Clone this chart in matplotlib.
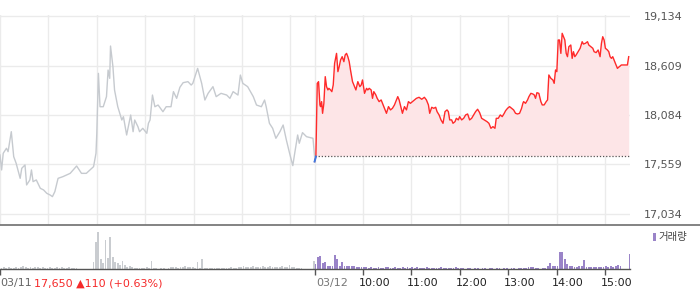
import numpy as np
import matplotlib
matplotlib.use("Agg")
import matplotlib.pyplot as plt
from matplotlib.lines import Line2D
from matplotlib.patches import Rectangle

plt.rcParams['font.family'] = ['DejaVu Sans', 'Noto Sans CJK KR']

# --- data (minutes from 09:00, price in KRW) ---
prev_close = 17650
y_ticks = [17034, 17559, 18084, 18609, 19134]

d1_t = [0, 2, 4, 8, 10, 14, 17, 20, 25, 27, 31, 33, 37, 39, 41, 45, 50, 54, 58, 62,
        65, 68, 72, 78, 87, 95, 101, 107, 116, 119, 120, 122, 124, 128, 132, 134, 136, 137, 140, 142,
        146, 151, 153, 157, 162, 165, 167, 171, 173, 177, 182, 184, 186, 189, 192, 196, 202, 206, 212, 215,
        219, 223, 227, 233, 237, 239, 245, 250, 254, 258, 264, 268, 274, 281, 285, 289, 295, 298, 301, 307,
        314, 318, 324, 328, 330, 334, 338, 342, 347, 351, 355, 359, 363, 365, 369, 371, 375, 380, 388, 390]
d1_p = [17660, 17501, 17678, 17731, 17695, 17907, 17642, 17572, 17412, 17519, 17554, 17342, 17395, 17501, 17377, 17395, 17306, 17289, 17253, 17236,
        17218, 17271, 17412, 17430, 17465, 17543, 17465, 17465, 17536, 17678, 17890, 18526, 18172, 18172, 18279, 18561, 18473, 18816, 18597, 18349,
        18172, 18031, 18066, 17872, 18084, 17907, 18031, 17960, 17907, 17943, 17890, 17996, 18031, 18296, 18172, 18190, 18119, 18172, 18172, 18332,
        18261, 18378, 18427, 18438, 18402, 18420, 18579, 18420, 18243, 18314, 18385, 18279, 18314, 18296, 18261, 18332, 18296, 18508, 18420, 18385,
        18279, 18190, 18172, 18243, 18172, 17996, 17943, 17837, 17907, 17978, 17819, 17678, 17547, 17660, 17872, 17784, 17897, 17854, 17837, 17642]

d2_t = [0, 1.6, 3.3, 4.9, 6.6, 7.4, 8.7, 9.9, 11.5, 13.2, 14.8, 16.5, 17.7, 19.8, 21.4, 23.1, 24.8, 26.4, 27.2, 28.9,
        30.5, 32.2, 34.2, 36.3, 37.9, 39.6, 41.2, 42.9, 44.5, 47, 49.5, 51.2, 53.6, 56.1, 57.8, 59.4, 61.9, 64.4, 66, 67.7,
        70.1, 71.8, 73.4, 75.9, 77.6, 80, 82.5, 85, 87.5, 89.1, 91.6, 94.1, 96.5, 99, 101.5, 103.1, 104.8, 107.3, 108.9, 111.4,
        113.9, 116.3, 118.8, 121.3, 123.8, 126.2, 129.5, 132.8, 136.1, 138.6, 141.1, 142.7, 145.2, 147.7, 150.1, 151.8, 154.3, 156.7, 159.2, 161.7,
        164.2, 165.8, 167.5, 169.9, 171.6, 174.1, 175.7, 178.2, 179.8, 182.3, 184.8, 187.3, 189.7, 192.2, 194.7, 197.2, 199.6, 202.1, 204.6, 207.1,
        210.4, 213.7, 216.1, 218.6, 221.1, 223.6, 225.2, 227.7, 230.2, 232.6, 235.1, 236.8, 239.2, 241.7, 244.2, 246.7, 249.1, 251.6, 254.1, 256.6,
        258.2, 259.1, 261.5, 264, 265.7, 268.1, 270.6, 272.3, 273.9, 275.6, 278, 280.5, 282.2, 284.6, 287.1, 288.8, 290.4, 292.9, 295.4, 297,
        298.7, 300.3, 302, 303.6, 305.3, 306.9, 308.6, 310.2, 311.9, 313.5, 315.2, 317.6, 319.3, 320.9, 322.6, 324.2, 326.7, 329.2, 331.7, 333.3,
        335.8, 338.3, 339.9, 342.4, 344.9, 346.5, 349, 351.5, 353.9, 355.6, 357.2, 358.9, 360.5, 363, 364.7, 366.3, 368, 369.6, 371.3, 372.9,
        375.4, 377.9, 380.3, 385.3, 387.8, 389.4]
d2_p = [17590, 17643, 18420, 18438, 18191, 18173, 18226, 18102, 18208, 18491, 18385, 18350, 18367, 18350, 18332, 18403, 18632, 18703, 18738, 18544,
        18597, 18668, 18703, 18650, 18721, 18738, 18703, 18650, 18562, 18438, 18385, 18350, 18438, 18385, 18403, 18456, 18314, 18367, 18350, 18367,
        18350, 18261, 18332, 18297, 18261, 18226, 18244, 18191, 18138, 18102, 18173, 18138, 18155, 18191, 18244, 18279, 18244, 18155, 18102, 18173,
        18138, 18226, 18208, 18226, 18244, 18261, 18272, 18251, 18272, 18244, 18191, 18102, 18166, 18155, 18166, 18120, 18085, 18032, 17996, 18120,
        18138, 18120, 18032, 18032, 17996, 18014, 18049, 18032, 18067, 18032, 18049, 18085, 18095, 18032, 18049, 18085, 18120, 18145, 18109, 18049,
        18032, 18014, 17996, 17943, 17961, 17943, 18049, 18049, 18085, 18067, 18102, 18130, 18155, 18173, 18155, 18138, 18102, 18095, 18102, 18155,
        18208, 18226, 18208, 18244, 18279, 18314, 18307, 18297, 18261, 18321, 18314, 18226, 18191, 18191, 18226, 18244, 18509, 18473, 18456, 18420,
        18562, 18544, 18880, 18880, 18738, 18951, 18915, 18880, 18738, 18703, 18809, 18827, 18685, 18756, 18703, 18721, 18756, 18792, 18862, 18837,
        18845, 18862, 18827, 18809, 18792, 18756, 18746, 18774, 18703, 18845, 18915, 18880, 18792, 18774, 18756, 18703, 18685, 18703, 18668, 18632,
        18579, 18597, 18615, 18615, 18615, 18703]

# volume, 3-minute buckets from 09:00 to 15:30
vol1 = [2, 1, 2, 1, 2, 1, 1, 2, 1, 2,
        3, 2, 1, 2, 1, 2, 2, 1, 2, 1,
        1, 2, 1, 1, 2, 1, 2, 1, 1, 2,
        1, 1, 1, 0, 0, 0, 0, 0, 0, 7,
        27, 37, 10, 6, 29, 11, 32, 12, 7, 6,
        4, 8, 4, 2, 3, 2, 1, 1, 1, 1,
        1, 2, 1, 8, 1, 1, 0, 1, 1, 0,
        1, 2, 2, 2, 1, 2, 2, 3, 2, 2,
        2, 1, 7, 1, 10, 1, 1, 1, 1, 1,
        1, 1, 1, 1, 1, 1, 2, 1, 1, 2,
        2, 3, 2, 2, 2, 3, 2, 2, 2, 3,
        2, 2, 3, 2, 2, 2, 2, 3, 2, 2,
        4, 2, 2, 1, 1, 1, 0, 0, 0, 0,
        8]
vol2 = [5, 12, 13, 6, 7, 3, 3, 3, 14, 10,
        3, 7, 3, 3, 3, 3, 3, 2, 2, 2,
        2, 2, 1, 2, 1, 1, 2, 1, 1, 2,
        2, 1, 1, 2, 1, 1, 2, 1, 2, 1,
        2, 1, 2, 1, 1, 1, 2, 1, 1, 1,
        1, 1, 2, 1, 1, 1, 1, 1, 2, 1,
        1, 1, 0, 1, 1, 0, 1, 1, 0, 1,
        1, 0, 1, 1, 0, 1, 1, 0, 1, 1,
        0, 1, 1, 0, 1, 1, 1, 1, 2, 2,
        2, 1, 1, 0, 1, 1, 3, 6, 3, 3,
        3, 17, 17, 10, 5, 3, 3, 2, 2, 3,
        3, 9, 2, 2, 2, 2, 2, 2, 2, 2,
        3, 2, 3, 2, 3, 4, 3, 0, 0, 0,
        15]

hour_labels = ["10:00", "11:00", "12:00", "13:00", "14:00", "15:00"]

DAY = 390  # minutes per session

fig = plt.figure(figsize=(7, 2.89), dpi=100)

# --- price panel ---
ax = fig.add_axes([0, 0.2215, 0.9, 0.7265])
ax.set_xlim(0, 781)
ax.set_ylim(16917, 19145)

grid_c = '#ebebeb'
for y in y_ticks:
    ax.axhline(y, color=grid_c, lw=1, zorder=0)
ax.axvline(0, color=grid_c, lw=1, zorder=0)
for h in range(1, 7):
    ax.axvline(h * 60, color=grid_c, lw=1, zorder=0)
    ax.axvline(DAY + h * 60, color=grid_c, lw=1, zorder=0)
ax.axvline(DAY, color=grid_c, lw=1, zorder=0)

t1 = np.array(d1_t)
p1 = np.array(d1_p)
t2 = DAY + np.array(d2_t)
p2 = np.array(d2_p)

ax.plot(t1, p1, color='#c6cacf', lw=1, zorder=2)
ax.fill_between(t2, p2, prev_close, where=p2 >= prev_close, interpolate=True,
                color='#fde5e7', lw=0, zorder=1)
ax.plot([DAY, 781], [prev_close, prev_close], color='#555555', lw=0.9,
        linestyle=(0, (1, 1.5)), zorder=2)
ax.plot(t2, p2, color='#ff2a2a', lw=1, zorder=3)
ax.plot(t2[:2], p2[:2], color='#3b7be3', lw=1.4, zorder=4)

ax.set_xticks([])
ax.set_yticks(y_ticks)
ax.set_yticklabels([f"{v:,}" for v in y_ticks])
ax.yaxis.tick_right()
ax.tick_params(axis='y', length=0, pad=10, labelsize=8, labelcolor='#555555')
for s in ax.spines.values():
    s.set_visible(False)

# separator between panels
fig.add_artist(Line2D([0, 1], [0.2215, 0.2215], color='#7a7a7a', lw=1.3))

# --- volume panel ---
av = fig.add_axes([0, 0.0692, 0.9, 0.1523])
av.set_xlim(0, 781)
av.set_ylim(0, 44)
vt = np.arange(len(vol1)) * 3
av.bar(vt, vol1, width=-2.3, align='edge', color='#c9ccd0', lw=0)
av.bar(DAY + vt, vol2, width=2.3, align='edge', color='#9a84c8', lw=0)
av.set_yticks([])
for k in ['top', 'left', 'right']:
    av.spines[k].set_visible(False)
av.spines['bottom'].set_color('#555555')
av.spines['bottom'].set_linewidth(1)
tick_pos = [0, DAY] + [DAY + h * 60 for h in range(1, 7)]
av.set_xticks(tick_pos)
av.set_xticklabels([])
av.tick_params(axis='x', length=4, width=1, color='#555555', direction='out')

# bottom labels
lab_y = 1 - 283 / 289
fig.text(0.0, lab_y, "03/11", color='#666666', fontsize=8, va='center', ha='left')
fig.text(34 / 700, lab_y, "17,650 ▲110 (+0.63%)", color='#f52a2a', fontsize=8,
         va='center', ha='left')
fig.text(316 / 700, lab_y, "03/12", color='#777777', fontsize=8, va='center', ha='left')
for h, lab in enumerate(hour_labels, start=1):
    x_min = DAY + h * 60
    av.text(x_min - 5.5, -0.32, lab, transform=av.get_xaxis_transform(),
            color='#222222', fontsize=8, va='center', ha='left')

# volume legend
fig.add_artist(Rectangle((653 / 700, 1 - 241 / 289), 3 / 700, 8 / 289,
                         transform=fig.transFigure, color='#9a84c8', lw=0))
fig.text(658 / 700, 1 - 237 / 289, "거래량", color='#444444', fontsize=7.5,
         va='center', ha='left')

fig.savefig("out.png", dpi=100)
